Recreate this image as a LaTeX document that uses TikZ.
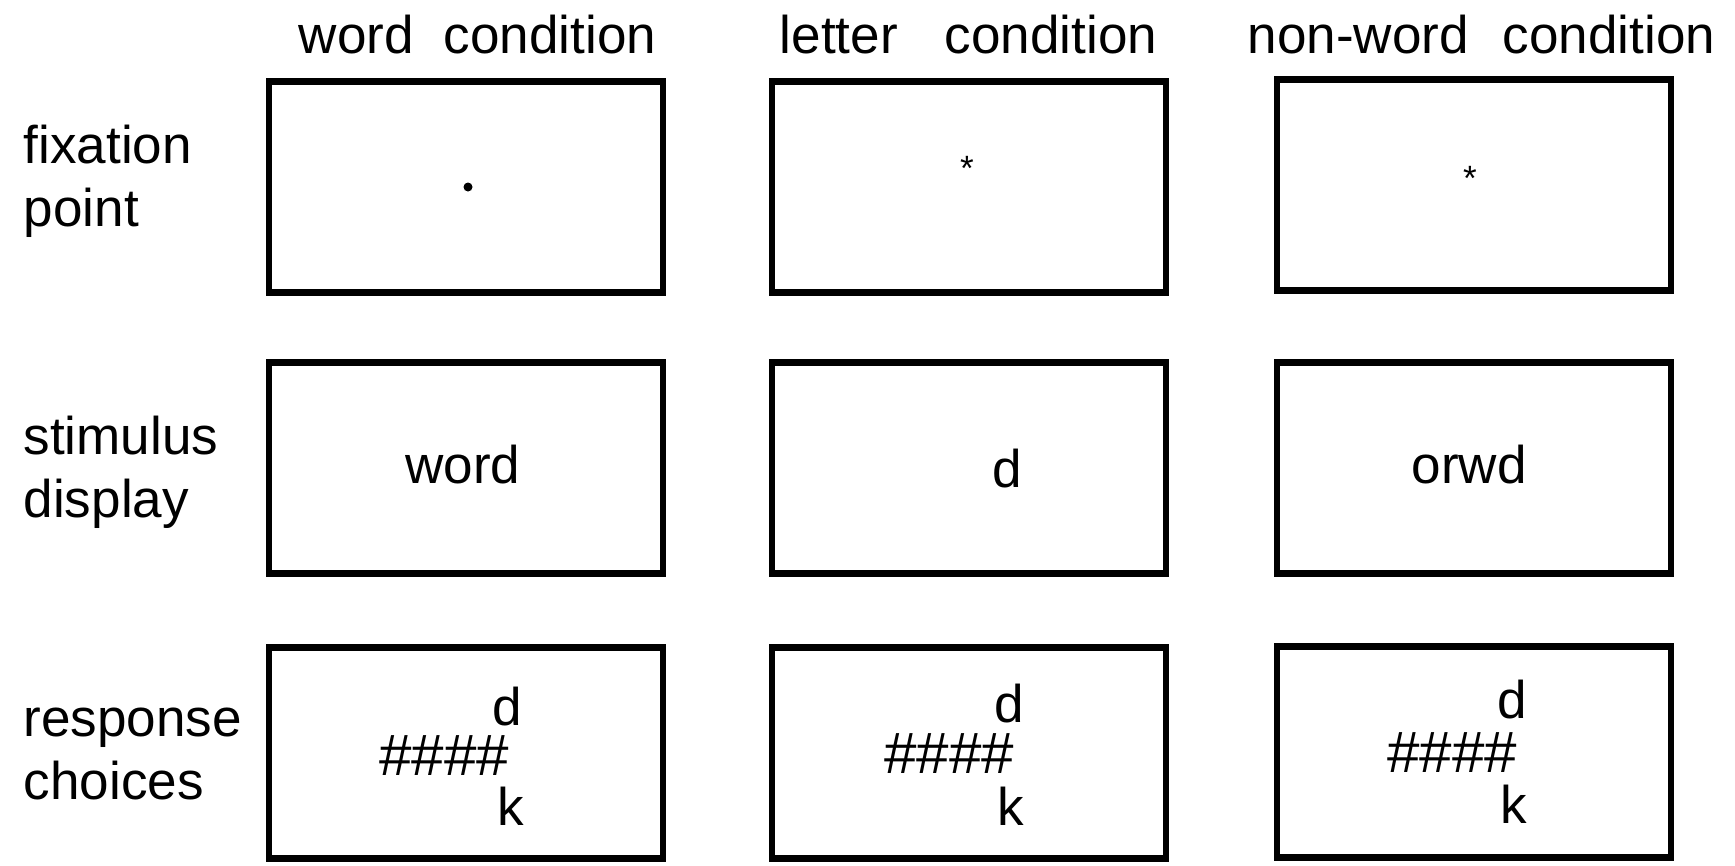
\documentclass[tikz,border=0pt]{standalone}
\usepackage{fontspec}
\setmainfont{Liberation Sans}
\usepackage{tikz}
\usetikzlibrary{
  positioning
}

\begin{document}
\begin{tikzpicture}
\useasboundingbox (0,0) rectangle (17.35,-8.65);
% -------------------------
% Screens
% -------------------------
\begin{scope}[
  every node/.style={draw, line width=1.85pt, minimum width=3.94cm, minimum height=2.11cm}
]

% word condition
\node (wfix)  at (4.66, -1.87) {};
\node (wstim) at (4.66, -4.68) {};
\node (wresp) at (4.66, -7.53) {};

% letter condition
\node (lfix)  at (9.69, -1.87) {};
\node (lstim) at (9.69, -4.68) {};
\node (lresp) at (9.69, -7.53) {};

% non-word condition
\node (nfix)  at (14.74, -1.85) {};
\node (nstim) at (14.74, -4.68) {};
\node (nresp) at (14.74, -7.52) {};

\end{scope}

% -------------------------
% Headings and row labels
% -------------------------
\begin{scope}[
  every node/.style={inner sep=0, font=\fontsize{15.1pt}{17.8pt}\selectfont, align=left}
]

\node[anchor=base west] (hword)   at (2.98, -0.53)  {word\hspace{0.30cm}condition};
\node[anchor=base west] (hletter) at (7.79, -0.53)  {letter\hspace{0.47cm}condition};
\node[anchor=base west] (hnon)    at (12.47, -0.53) {non-word\hspace{0.34cm}condition};

% base = last line
\node[anchor=base west] (rfix)  at (0.23, -2.26) {fixation\\point};
\node[anchor=base west] (rstim) at (0.23, -5.17) {stimulus\\display};
\node[anchor=base west] (rresp) at (0.23, -7.99) {response\\choices};

% stimulus display
\node[anchor=base] (sword) at (4.63, -4.83)  {word};
\node[anchor=base] (slet)  at (10.07, -4.87) {d};
\node[anchor=base] (snon)  at (14.69, -4.83) {orwd};

% response choices
\node[anchor=base east] (wd)    at (5.23, -7.25) {d};
\node[anchor=base east, font=\fontsize{16.6pt}{18pt}\selectfont] (wmask) at (5.10, -7.75) {\#\#\#\#};
\node[anchor=base east] (wk)    at (5.25, -8.25) {k};

\node[anchor=base east] (ld)    at (10.25, -7.22) {d};
\node[anchor=base east, font=\fontsize{16.6pt}{18pt}\selectfont] (lmask) at (10.15, -7.73) {\#\#\#\#};
\node[anchor=base east] (lk)    at (10.25, -8.25) {k};

\node[anchor=base east] (nd)    at (15.28, -7.18) {d};
\node[anchor=base east, font=\fontsize{16.6pt}{18pt}\selectfont] (nmask) at (15.18, -7.72) {\#\#\#\#};
\node[anchor=base east] (nk)    at (15.28, -8.23) {k};

\end{scope}

% -------------------------
% Fixation marks
% -------------------------
\node[circle, fill, inner sep=0, minimum size=0.09cm] (wdot) at (4.68, -1.87) {};
\node[anchor=north, inner sep=0, font=\fontsize{10pt}{12pt}\selectfont] (lstar) at (9.67, -1.56) {*};
\node[anchor=north, inner sep=0, font=\fontsize{10pt}{12pt}\selectfont] (nstar) at (14.70, -1.66) {*};

\end{tikzpicture}
\end{document}
